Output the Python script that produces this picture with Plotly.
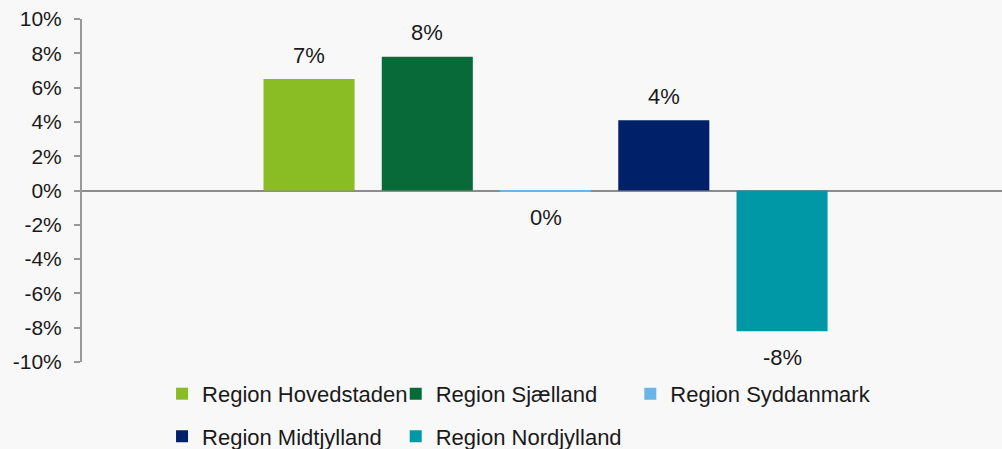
import math
import plotly.graph_objects as go

# Data
regions = ['Region Hovedstaden', 'Region Sjælland', 'Region Syddanmark',
           'Region Midtjylland', 'Region Nordjylland']
values = [6.5, 7.8, -0.03, 4.1, -8.2]
colors = ['#8ABD24', '#076A38', '#6CB4E4', '#002169', '#0097A7']
tick_vals = [-10, -8, -6, -4, -2, 0, 2, 4, 6, 8, 10]
tick_text = [f'{t}%' for t in tick_vals]

FONT = 'Arial, Liberation Sans, sans-serif'
BG = '#F8F8F8'


def pct(v):
    return f'{math.floor(v + 0.5):d}%'


# legend slots (paper coords): one legend per entry, Excel-like grid
legend_pos = [(0.087, -0.093), (0.341, -0.093), (0.596, -0.093),
              (0.087, -0.217), (0.341, -0.217)]

fig = go.Figure()

for i, (name, val, col) in enumerate(zip(regions, values, colors)):
    lg = 'legend' if i == 0 else f'legend{i + 1}'
    fig.add_trace(
        go.Bar(
            x=[name],
            y=[val],
            name=name,
            marker=dict(color=col, line=dict(width=0)),
            width=0.77,
            legend=lg,
            showlegend=True,
        )
    )
    # value label above/below the bar
    fig.add_annotation(
        x=name, y=val,
        text=pct(val),
        showarrow=False,
        yshift=24 if val > 0 else -26,
        font=dict(family=FONT, size=22, color='#1a1a1a'),
    )

legends = {}
for i, (lx, ly) in enumerate(legend_pos):
    key = 'legend' if i == 0 else f'legend{i + 1}'
    legends[key] = dict(
        x=lx, y=ly, xanchor='left', yanchor='middle',
        orientation='h',
        bgcolor='rgba(0,0,0,0)',
        font=dict(family=FONT, size=22, color='#1a1a1a'),
        itemwidth=30,
        itemclick=False,
    )

fig.update_layout(
    width=1002,
    height=449,
    margin=dict(l=82, r=0, t=19, b=87, autoexpand=False),
    paper_bgcolor=BG,
    plot_bgcolor=BG,
    barmode='overlay',
    font=dict(family=FONT, size=21, color='#1a1a1a'),
    xaxis=dict(
        type='category',
        range=[-1.92, 5.86],
        showticklabels=False,
        showgrid=False,
        showline=False,
        ticks='',
        zeroline=False,
    ),
    yaxis=dict(
        range=[-10, 10],
        tickvals=tick_vals,
        ticktext=tick_text,
        showgrid=False,
        showline=True,
        linecolor='#999999',
        linewidth=2,
        ticks='outside',
        ticklen=6,
        tickwidth=2,
        tickcolor='#999999',
        ticklabelstandoff=8,
        zeroline=True,
        zerolinecolor='#8c8c8c',
        zerolinewidth=2,
    ),
    **legends,
)

# page margin off so the chart fills the window
fig.write_html('out.html', config={'displayModeBar': False},
               post_script="document.body.style.margin='0px';")
